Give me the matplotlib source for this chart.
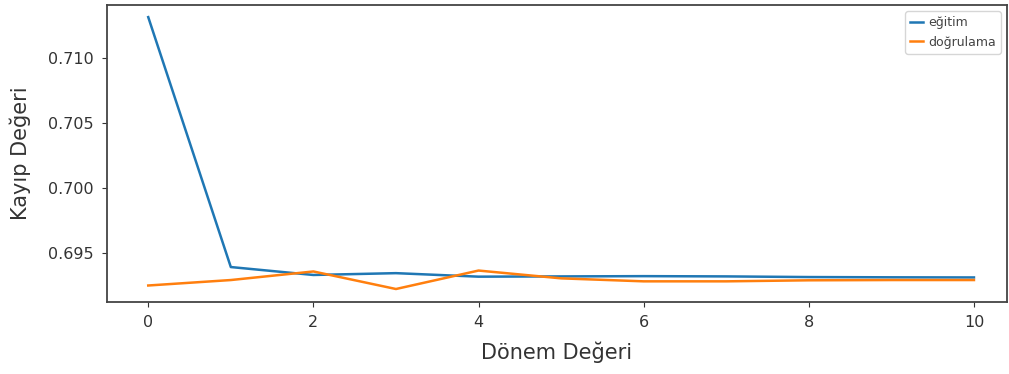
import numpy as np
import matplotlib.pyplot as plt

# kayip degerleri (loss)
epochs = list(range(0, 11))
egitim = [0.71315, 0.69392, 0.69331, 0.69345, 0.69318, 0.69320,
          0.69322, 0.69320, 0.69315, 0.69313, 0.69312]
dogrulama = [0.69250, 0.69292, 0.69358, 0.69223, 0.69365, 0.69305,
             0.69282, 0.69282, 0.69290, 0.69292, 0.69292]

fig = plt.figure(figsize=(10.09, 3.74), dpi=100)
ax = fig.add_axes([0.106, 0.1925, 0.892, 0.794])

ax.plot(epochs, egitim, color='#1f77b4', lw=1.8, label='eğitim')
ax.plot(epochs, dogrulama, color='#ff7f0e', lw=1.8, label='doğrulama')

ax.set_xlim(-0.5, 10.4)
ax.set_ylim(0.69123, 0.71408)
ax.set_xticks([0, 2, 4, 6, 8, 10])
ax.set_yticks([0.695, 0.700, 0.705, 0.710])
ax.tick_params(labelsize=11.5, colors='#333333', pad=6)
for s in ax.spines.values():
    s.set_linewidth(1.3)
    s.set_color('#444444')

ax.set_xlabel('Dönem Değeri', fontsize=15, color='#333333', labelpad=8)
ax.set_ylabel('Kayıp Değeri', fontsize=15, color='#333333', labelpad=12)
leg = ax.legend(loc='upper right', fontsize=9, handlelength=1.0, handletextpad=0.4)
for t in leg.get_texts():
    t.set_color('#444444')

plt.savefig('out.png', dpi=100)
